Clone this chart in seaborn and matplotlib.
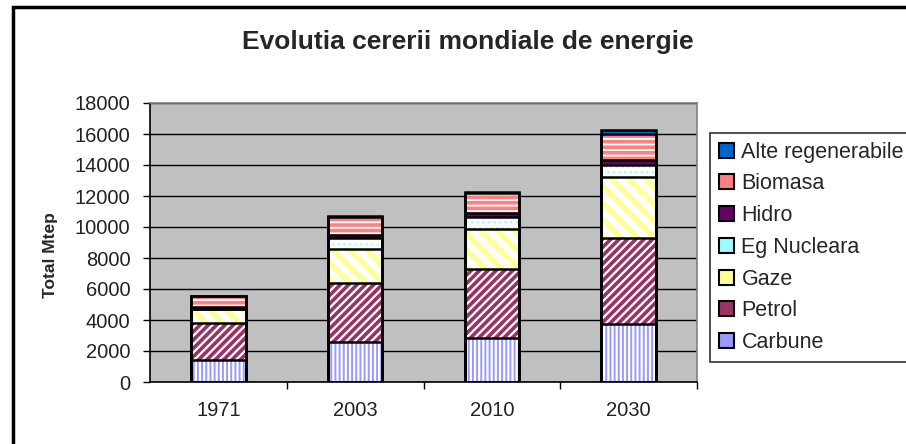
import numpy as np
import pandas as pd
import matplotlib as mplt
import matplotlib.pyplot as plt
import seaborn as sns
from matplotlib.patches import Patch, Rectangle

# Data (Mtep)
years = ['1971', '2003', '2010', '2030']
carbune = [1407, 2582, 2860, 3724]
petrol = [2413, 3785, 4431, 5546]
gaze = [892, 2224, 2560, 3942]
nucleara = [29, 687, 779, 767]
hidro = [104, 227, 278, 371]
biomasa = [687, 1143, 1273, 1653]
alte = [4, 54, 107, 272]

series_names = ['Carbune', 'Petrol', 'Gaze', 'Eg Nucleara', 'Hidro', 'Biomasa', 'Alte regenerabile']
series_vals = [carbune, petrol, gaze, nucleara, hidro, biomasa, alte]

# face colour, hatch, hatch colour, hatch linewidth
styles = {
    'Carbune': ('white', '||||', '#9999FF', 1.4),
    'Petrol': ('white', '////', '#993366', 2.6),
    'Gaze': ('white', '\\\\', '#FFFF99', 4.0),
    'Eg Nucleara': ('white', '...', '#99FFFF', 1.0),
    'Hidro': ('#660066', None, '#660066', 1.0),
    'Biomasa': ('white', '---', '#FF8080', 2.6),
    'Alte regenerabile': ('#0066CC', None, '#0066CC', 1.0),
}

sns.set_theme(style='white')
mplt.rcParams['font.family'] = ['Liberation Sans', 'DejaVu Sans']

df = pd.DataFrame(dict(zip(series_names, series_vals)), index=years)
cum = df.cumsum(axis=1)

fig = plt.figure(figsize=(9.06, 4.44), dpi=100)
ax = fig.add_axes([150/906, 1-382/444, (697-150)/906, (382-103)/444])
ax.set_facecolor('#C0C0C0')
ax.set_axisbelow(True)
ax.yaxis.grid(True, color='black', lw=1)

bw = 0.4
# fills, drawn from the top of the stack downwards
for name in reversed(series_names):
    face, hatch, hcol, hlw = styles[name]
    n0 = len(ax.patches)
    sns.barplot(x=years, y=cum[name].values, color=face, saturation=1, width=bw, ax=ax)
    for p in ax.patches[n0:]:
        p.set_facecolor(face)
        p.set_edgecolor(hcol)
        p.set_linewidth(0)
        if hatch:
            p.set_hatch(hatch)
            if hasattr(p, 'set_hatch_linewidth'):
                p.set_hatch_linewidth(hlw)
# outlines of every segment
for name in series_names:
    n0 = len(ax.patches)
    sns.barplot(x=years, y=cum[name].values, color='black', fill=False, width=bw, ax=ax)
    for p in ax.patches[n0:]:
        p.set_facecolor('none')
        p.set_edgecolor('black')
        p.set_linewidth(1.8)
        p.set_hatch(None)

ax.set_ylim(0, 18000)
ax.set_xlim(-0.5, 3.5)
ax.set_yticks(np.arange(0, 18001, 2000))
ax.set_yticklabels([str(v) for v in range(0, 18001, 2000)], fontsize=14.5)
ax.set_xticks(range(4))
ax.set_xticklabels(years, fontsize=14.5)
ax.set_xticks([0.5, 1.5, 2.5, 3.5], minor=True)
ax.tick_params(axis='x', which='major', length=0, pad=14, colors='#222222')
ax.tick_params(axis='x', which='minor', length=5, width=1, color='black', direction='out', bottom=True)
ax.tick_params(axis='y', length=5, width=1, direction='out', left=True, pad=9, colors='#222222')
ax.tick_params(axis='y', color='black')
ax.set_xlabel('')
ax.set_ylabel('Total Mtep', fontsize=12.5, fontweight='bold')
ax.yaxis.set_label_coords(-0.168, (382-255)/279)
for s in ['left', 'bottom']:
    ax.spines[s].set_color('black')
    ax.spines[s].set_linewidth(1.2)
for s in ['top', 'right']:
    ax.spines[s].set_color('#808080')
    ax.spines[s].set_linewidth(1.2)

fig.text(468/906, 1-42/444, 'Evolutia cererii mondiale de energie', ha='center', va='center',
         fontsize=19, fontweight='bold')

handles = []
for name in reversed(series_names):
    face, hatch, hcol, hlw = styles[name]
    if hatch:
        h = Patch(facecolor=hcol, edgecolor='black', lw=1.5, label=name)
    else:
        h = Patch(facecolor=face, edgecolor='black', lw=1.5, label=name)
    handles.append(h)
leg = fig.legend(handles=handles, loc='upper left', bbox_to_anchor=(710/906, 1-133/444),
                 frameon=True, fancybox=False, edgecolor='black', fontsize=15.5,
                 handlelength=0.7, handleheight=0.7, handletextpad=0.36,
                 labelspacing=0.5, borderpad=0.4, borderaxespad=0)
leg.get_frame().set_linewidth(1.2)

fig.patches.append(Rectangle((13/906, -0.5), 2, 1-7/444+0.5, transform=fig.transFigure,
                             fill=False, edgecolor='black', lw=2.5, clip_on=False))

fig.savefig('out.png', dpi=100)
